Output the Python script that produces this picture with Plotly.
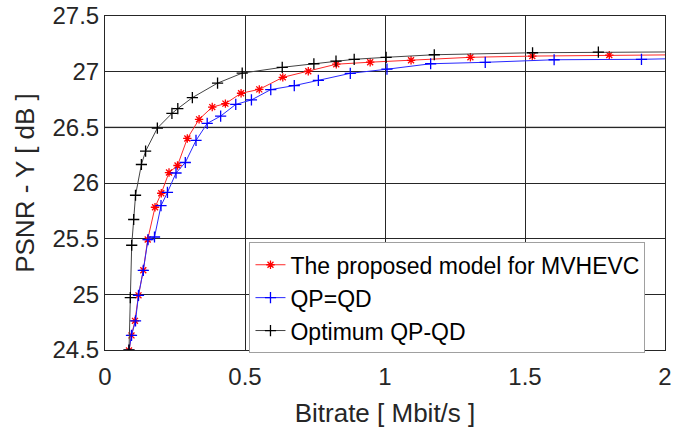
import plotly.graph_objects as go

# Data
prop_x = [0.0857, 0.0946, 0.107, 0.1196, 0.1368, 0.1525, 0.1786, 0.201, 0.2286, 0.259,
          0.294, 0.336, 0.383, 0.430, 0.486, 0.551, 0.635, 0.726, 0.826, 0.947,
          1.093, 1.305, 1.526, 1.801, 2.2]
prop_y = [24.496, 24.631, 24.762, 24.991, 25.216, 25.492, 25.782, 25.908, 26.094, 26.157,
          26.400, 26.572, 26.682, 26.713, 26.806, 26.841, 26.949, 27.004, 27.067, 27.085,
          27.102, 27.129, 27.140, 27.149, 27.155]

qpqd_x = [0.0857, 0.0946, 0.109, 0.1196, 0.1368, 0.1536, 0.1768, 0.200, 0.223, 0.2536,
          0.2868, 0.325, 0.365, 0.413, 0.467, 0.523, 0.592, 0.676, 0.762, 0.876,
          1.007, 1.163, 1.358, 1.604, 1.916, 2.2]
qpqd_y = [24.496, 24.631, 24.762, 24.991, 25.216, 25.492, 25.515, 25.796, 25.915, 26.090,
          26.184, 26.382, 26.535, 26.601, 26.706, 26.746, 26.839, 26.875, 26.922, 26.985,
          27.022, 27.071, 27.084, 27.107, 27.111, 27.125]

opt_x = [0.0857, 0.0904, 0.0954, 0.1025, 0.109, 0.130, 0.145, 0.187, 0.239, 0.260,
         0.312, 0.402, 0.490, 0.633, 0.746, 0.825, 0.890, 1.004, 1.176, 1.527,
         1.762, 2.2]
opt_y = [24.50, 24.970, 25.441, 25.672, 25.890, 26.166, 26.286, 26.493, 26.625, 26.668,
         26.767, 26.897, 26.987, 27.039, 27.071, 27.095, 27.111, 27.129, 27.152, 27.170,
         27.176, 27.180]

x_ticks = [0, 0.5, 1, 1.5, 2]
x_tick_text = ["0", "0.5", "1", "1.5", "2"]
y_ticks = [24.5, 25, 25.5, 26, 26.5, 27, 27.5]
y_tick_text = ["24.5", "25", "25.5", "26", "26.5", "27", "27.5"]

names = ["The proposed model for MVHEVC", "QP=QD", "Optimum QP-QD"]

FONT = "Arial, Liberation Sans, Helvetica, sans-serif"
TXT = "#262626"

fig = go.Figure()
fig.add_trace(go.Scatter(
    x=prop_x, y=prop_y, mode="lines+markers", name=names[0],
    line=dict(color="rgb(255,40,40)", width=1),
    marker=dict(symbol="asterisk-open", size=7, color="red", line=dict(color="red", width=1.3)),
))
fig.add_trace(go.Scatter(
    x=qpqd_x, y=qpqd_y, mode="lines+markers", name=names[1],
    line=dict(color="rgb(40,40,255)", width=1),
    marker=dict(symbol="cross-thin-open", size=8, color="blue", line=dict(color="blue", width=1.3)),
))
fig.add_trace(go.Scatter(
    x=opt_x, y=opt_y, mode="lines+markers", name=names[2],
    line=dict(color="#444444", width=1),
    marker=dict(symbol="cross-thin-open", size=8, color="black", line=dict(color="black", width=1.3)),
))

fig.add_shape(type="line", xref="x", yref="y", x0=0, x1=2, y0=26.5, y1=26.5,
              line=dict(color="#b4b4b4", width=2), layer="below")

fig.update_layout(
    width=686, height=428,
    margin=dict(l=105, r=21, t=16, b=78, autoexpand=False),
    paper_bgcolor="white", plot_bgcolor="white",
    font=dict(family=FONT, size=24, color=TXT),
    showlegend=True,
    legend=dict(
        x=0.258, y=0.3225, xanchor="left", yanchor="top",
        bgcolor="white", bordercolor="#a0a0a0", borderwidth=1,
        font=dict(family=FONT, size=23, color="black"),
        tracegroupgap=0, itemwidth=30,
    ),
)
fig.update_xaxes(
    range=[0, 2], tickvals=x_ticks, ticktext=x_tick_text, automargin=False,
    showgrid=True, gridcolor="#262626", gridwidth=1,
    showline=True, linecolor=TXT, linewidth=1, mirror="ticks",
    ticks="inside", ticklen=5, tickcolor=TXT, ticklabelstandoff=5,
    zeroline=False,
    title=dict(text="Bitrate [ Mbit/s ]", font=dict(size=26, color=TXT), standoff=21),
)
fig.update_yaxes(
    range=[24.5, 27.5], tickvals=y_ticks, ticktext=y_tick_text, automargin=False,
    showgrid=True, gridcolor="#262626", gridwidth=1,
    showline=True, linecolor=TXT, linewidth=1, mirror="ticks",
    ticks="inside", ticklen=5, tickcolor=TXT,
    zeroline=False,
    title=dict(text="PSNR - Y [ dB ]", font=dict(size=26, color=TXT), standoff=10),
)

fig.write_html("out.html", config={"displayModeBar": False},
               post_script="document.body.style.margin='0';document.body.style.padding='0';")
